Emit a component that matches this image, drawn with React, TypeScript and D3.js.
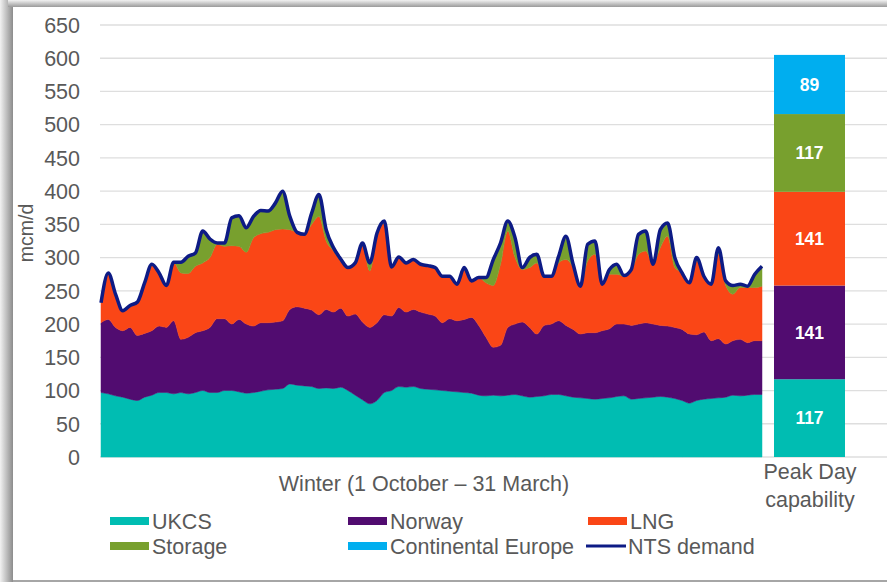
import { useRef, useEffect } from 'react'
import * as d3 from 'd3'

// daily-ish supply by source over winter (sampled every ~2 days), mcm/d
const ukcs = [
	97, 95, 92, 90, 87, 85, 90, 93, 97, 97, 95, 97, 95, 97, 100, 97, 97, 100, 100,
	98, 96, 97, 99, 101, 102, 103, 110, 108, 107, 106, 103, 104, 103, 105, 100, 93, 86,
	80, 85, 97, 100, 106, 105, 106, 103, 102, 101, 100, 99, 98, 97, 96, 93, 92, 93,
	92, 93, 94, 92, 90, 91, 92, 94, 94, 92, 90, 89, 88, 87, 88, 89, 91, 92,
	87, 88, 89, 90, 91, 90, 88, 85, 81, 85, 87, 88, 89, 90, 93, 92, 93, 94, 94,
]
const norway = [
	105, 112, 103, 100, 108, 98, 96, 97, 100, 98, 110, 80, 85, 90, 90, 98, 111, 108, 100,
	109, 104, 100, 103, 101, 101, 102, 112, 118, 117, 115, 111, 118, 115, 119, 112, 122, 117,
	115, 117, 117, 112, 119, 113, 116, 115, 113, 111, 102, 109, 107, 110, 114, 105, 88, 72,
	76, 102, 106, 111, 105, 94, 106, 106, 111, 106, 102, 96, 99, 100, 102, 104, 109, 108,
	111, 112, 113, 110, 107, 107, 107, 107, 104, 99, 101, 87, 89, 80, 82, 85, 79, 81, 81,
]
const lng = [
	30, 70, 50, 30, 33, 50, 76, 100, 80, 63, 88, 100, 96, 100, 102, 105, 112, 109, 118,
	110, 108, 133, 134, 136, 139, 138, 120, 112, 111, 129, 148, 103, 92, 71, 73, 77, 115,
	85, 130, 138, 74, 76, 74, 75, 72, 73, 73, 70, 64, 55, 78, 55, 72, 82, 93,
	122, 145, 100, 79, 90, 107, 74, 72, 87, 99, 93, 72, 108, 118, 70, 82, 75, 72,
	82, 105, 108, 90, 117, 135, 90, 85, 77, 111, 84, 85, 127, 88, 70, 78, 83, 80, 82,
]
const storage = [
	0, 0, 0, 0, 0, 0, 0, 0, 0, 0, 0, 16, 26, 20, 48, 28, 2, 5, 42,
	46, 37, 32, 35, 32, 40, 57, 20, 0, 0, 17, 33, 17, 5, 3, 0, 0, 4,
	12, 5, 3, 0, 0, 0, 0, 0, 0, 0, 0, 0, 0, 0, 0, 0, 8, 39,
	32, 15, 30, 3, 15, 13, 0, 0, 10, 35, 5, 0, 25, 20, 0, 7, 15, 1,
	2, 30, 30, 0, 27, 20, 15, 0, 0, 5, 0, 0, 10, 7, 13, 5, 2, 20, 30,
]
const ntsDemand = [
	232, 277, 245, 220, 228, 233, 262, 290, 277, 258, 293, 293, 302, 307, 340, 328, 322, 322, 360,
	363, 345, 362, 371, 370, 382, 400, 362, 338, 335, 367, 395, 342, 315, 298, 285, 292, 322,
	292, 337, 355, 286, 301, 292, 297, 290, 288, 285, 272, 272, 260, 285, 265, 270, 270, 297,
	322, 355, 330, 285, 300, 305, 272, 272, 302, 332, 290, 257, 320, 325, 260, 282, 290, 273,
	282, 335, 340, 290, 342, 352, 300, 277, 262, 300, 272, 260, 315, 265, 258, 260, 257, 275, 287,
]

const peakSources = ['UKCS', 'Norway', 'LNG', 'Storage', 'Continental Europe']
const peakValues = [117, 141, 141, 117, 89]
const yTicks = [0, 50, 100, 150, 200, 250, 300, 350, 400, 450, 500, 550, 600, 650]

const areaKeys = ['UKCS', 'Norway', 'LNG', 'Storage']
const colors: Record<string, string> = {
	UKCS: '#00bdb2',
	Norway: '#510c70',
	LNG: '#fa4616',
	Storage: '#78a02e',
	'Continental Europe': '#00aeef',
	'NTS demand': '#0d1b85',
}

const textColor = '#595959'
const font = '"Liberation Sans", Arial, sans-serif'
const fs = '21.5px'

const App = () => {
	const svgRef = useRef<SVGSVGElement | null>(null)

	useEffect(() => {
		if (!svgRef.current) return
		const width = 887
		const height = 582

		const svg = d3.select(svgRef.current)
		svg.selectAll('*').remove()

		// frame with soft grey shadow on the left/top
		const defs = svg.append('defs')
		const gl = defs.append('linearGradient').attr('id', 'shL').attr('x1', 0).attr('x2', 1).attr('y1', 0).attr('y2', 0)
		gl.append('stop').attr('offset', '0%').attr('stop-color', '#f2f2f2')
		gl.append('stop').attr('offset', '100%').attr('stop-color', '#8c8c8c')
		const gt = defs.append('linearGradient').attr('id', 'shT').attr('x1', 0).attr('x2', 0).attr('y1', 0).attr('y2', 1)
		gt.append('stop').attr('offset', '0%').attr('stop-color', '#f2f2f2')
		gt.append('stop').attr('offset', '100%').attr('stop-color', '#9a9a9a')

		svg.append('rect').attr('width', width).attr('height', height).attr('fill', '#fff')
		svg.append('rect').attr('x', 0).attr('y', 0).attr('width', 13).attr('height', height).attr('fill', 'url(#shL)')
		svg.append('rect').attr('x', 8).attr('y', 0).attr('width', width).attr('height', 7).attr('fill', 'url(#shT)')
		svg.append('rect').attr('x', 13).attr('y', 580).attr('width', width).attr('height', 2).attr('fill', '#a6a6a6')

		const y = d3.scaleLinear().domain([0, 650]).range([457, 25])
		const x = d3.scaleLinear().domain([0, ukcs.length - 1]).range([101, 762])

		// gridlines + y labels
		const grid = svg.append('g')
		grid
			.selectAll('line')
			.data(yTicks)
			.enter()
			.append('line')
			.attr('x1', 100)
			.attr('x2', width)
			.attr('y1', (d) => y(d))
			.attr('y2', (d) => y(d))
			.attr('stroke', '#dedede')
			.attr('stroke-width', 1.3)
		grid
			.selectAll('text')
			.data(yTicks)
			.enter()
			.append('text')
			.attr('x', 80)
			.attr('y', (d) => y(d))
			.attr('dy', '0.36em')
			.attr('text-anchor', 'end')
			.attr('fill', textColor)
			.style('font-family', font)
			.style('font-size', fs)
			.text((d) => d)

		svg
			.append('text')
			.attr('transform', 'translate(33,233) rotate(-90)')
			.attr('text-anchor', 'middle')
			.attr('fill', textColor)
			.style('font-family', font)
			.style('font-size', '19.5px')
			.text('mcm/d')

		// stacked areas
		const rows = ukcs.map((v, i) => ({ UKCS: v, Norway: norway[i], LNG: lng[i], Storage: storage[i] }))
		const series = d3.stack<any>().keys(areaKeys)(rows)
		const area = d3
			.area<any>()
			.x((_, i) => x(i))
			.y0((d) => y(d[0]))
			.y1((d) => y(d[1]))
			.curve(d3.curveMonotoneX)

		svg
			.append('g')
			.selectAll('path')
			.data(series)
			.enter()
			.append('path')
			.attr('d', (s) => area(s as any))
			.attr('fill', (s) => colors[s.key])
			.attr('stroke', (s) => colors[s.key])
			.attr('stroke-width', 0.5)

		const line = d3
			.line<number>()
			.x((_, i) => x(i))
			.y((d) => y(d))
			.curve(d3.curveMonotoneX)
		svg
			.append('path')
			.attr('d', line(ntsDemand))
			.attr('fill', 'none')
			.attr('stroke', colors['NTS demand'])
			.attr('stroke-width', 3.5)
			.attr('stroke-linejoin', 'round')

		// peak day bar
		const tops = d3.cumsum(peakValues)
		const barX = 774
		const barW = 71
		const bar = svg.append('g')
		bar
			.selectAll('rect')
			.data(peakSources)
			.enter()
			.append('rect')
			.attr('x', barX)
			.attr('width', barW)
			.attr('y', (_, i) => y(tops[i]))
			.attr('height', (_, i) => y(tops[i] - peakValues[i]) - y(tops[i]))
			.attr('fill', (d) => colors[d])
		bar
			.selectAll('text')
			.data(peakSources)
			.enter()
			.append('text')
			.attr('x', barX + barW / 2)
			.attr('y', (_, i) => y(tops[i] - peakValues[i] / 2))
			.attr('dy', '0.36em')
			.attr('text-anchor', 'middle')
			.attr('fill', '#fff')
			.style('font-family', font)
			.style('font-weight', 'bold')
			.style('font-size', '17.5px')
			.text((_, i) => peakValues[i])

		// axis titles
		svg
			.append('text')
			.attr('x', 424)
			.attr('y', 491)
			.attr('text-anchor', 'middle')
			.attr('fill', textColor)
			.style('font-family', font)
			.style('font-size', fs)
			.text('Winter (1 October – 31 March)')
		const pk = svg
			.append('text')
			.attr('text-anchor', 'middle')
			.attr('fill', textColor)
			.style('font-family', font)
			.style('font-size', fs)
		pk.append('tspan').attr('x', 810).attr('y', 479).text('Peak Day')
		pk.append('tspan').attr('x', 810).attr('y', 507).text('capability')

		// legend
		const legendItems = ['UKCS', 'Norway', 'LNG', 'Storage', 'Continental Europe', 'NTS demand']
		const colX = [110, 348, 588]
		const rowY = [521, 546]
		const lg = svg
			.append('g')
			.selectAll('g')
			.data(legendItems)
			.enter()
			.append('g')
			.attr('transform', (_, i) => `translate(${colX[i % 3]},${rowY[Math.floor(i / 3)]})`)
		lg.each(function (d) {
			const g = d3.select(this)
			if (d === 'NTS demand') {
				g.append('line').attr('x1', -2).attr('x2', 38).attr('y1', 0).attr('y2', 0).attr('stroke', colors[d]).attr('stroke-width', 3)
			} else {
				g.append('rect').attr('x', 0).attr('y', -4).attr('width', 39).attr('height', 8).attr('fill', colors[d])
			}
		})
		lg.append('text')
			.attr('x', (d) => (d === 'NTS demand' ? 40 : 42))
			.attr('y', 0)
			.attr('dy', '0.36em')
			.attr('fill', textColor)
			.style('font-family', font)
			.style('font-size', fs)
			.text((d) => d)
	}, [])

	return (
		<svg
			ref={svgRef}
			width={887}
			height={582}
			style={{ position: 'absolute', left: 0, top: 0, display: 'block' }}
		></svg>
	)
}

export default App
